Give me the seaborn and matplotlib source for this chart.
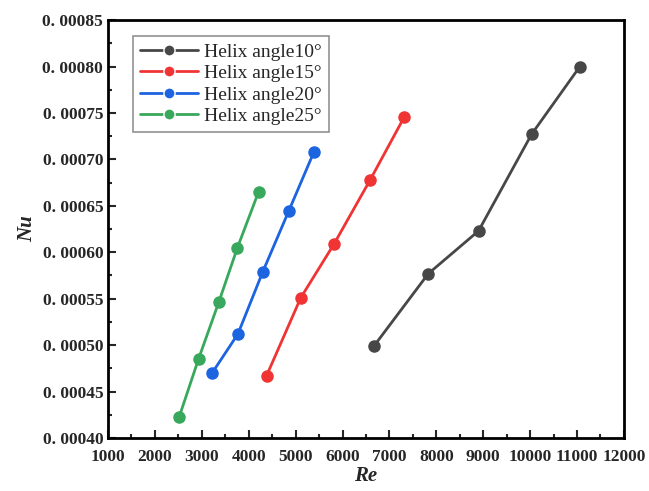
import numpy as np
import pandas as pd
import matplotlib
matplotlib.use("Agg")
import matplotlib.pyplot as plt
from matplotlib.ticker import FuncFormatter, MultipleLocator
import seaborn as sns

labels = ["Helix angle10°", "Helix angle15°", "Helix angle20°", "Helix angle25°"]
re_10 = [6670, 7830, 8900, 10030, 11060]
nu_10 = [0.000499, 0.000577, 0.000623, 0.000727, 0.000800]
re_15 = [4380, 5110, 5820, 6590, 7320]
nu_15 = [0.000467, 0.000551, 0.000609, 0.000678, 0.000746]
re_20 = [3220, 3770, 4300, 4850, 5390]
nu_20 = [0.000470, 0.000512, 0.000579, 0.000644, 0.000708]
re_25 = [2520, 2930, 3360, 3760, 4210]
nu_25 = [0.000423, 0.000485, 0.000546, 0.000605, 0.000665]
colors = ["#474747", "#f03434", "#1d64e0", "#38a85c"]

frames = []
for lab, x, y in zip(labels, [re_10, re_15, re_20, re_25], [nu_10, nu_15, nu_20, nu_25]):
    frames.append(pd.DataFrame({"Re": x, "Nu": y, "series": lab}))
df = pd.concat(frames, ignore_index=True)

sns.set_style("ticks")
plt.rcParams["font.family"] = ["Liberation Serif", "DejaVu Serif"]

fig = plt.figure(figsize=(6.49, 4.91), dpi=100)
ax = fig.add_axes([0.1664, 0.108, 0.795, 0.851])

sns.lineplot(data=df, x="Re", y="Nu", hue="series", hue_order=labels,
             palette=colors, marker="o", markersize=8, linewidth=2,
             markeredgewidth=1, ax=ax, sort=False)
for line, c in zip(ax.get_lines(), colors):
    line.set_markeredgecolor(c)

ax.set_xlim(1000, 12000)
ax.set_ylim(0.0004, 0.00085)
ax.xaxis.set_major_locator(MultipleLocator(1000))
ax.xaxis.set_minor_locator(MultipleLocator(500))
ax.yaxis.set_major_locator(MultipleLocator(0.00005))
ax.yaxis.set_minor_locator(MultipleLocator(0.000025))
ax.yaxis.set_major_formatter(FuncFormatter(lambda v, p: ("%.5f" % v).replace(".", ". ")))
ax.xaxis.set_major_formatter(FuncFormatter(lambda v, p: "%d" % round(v)))

ax.tick_params(which="major", direction="in", length=6, width=1.5, labelsize=12.5)
ax.tick_params(which="minor", direction="in", length=3, width=1.5)
ax.tick_params(axis="x", which="major", pad=8)
for lab in ax.get_xticklabels() + ax.get_yticklabels():
    lab.set_fontweight("bold")
for sp in ax.spines.values():
    sp.set_linewidth(2)
    sp.set_color("black")

ax.set_xlabel("Re", fontsize=15, fontweight="bold", style="italic", labelpad=1)
ax.set_ylabel("Nu", fontsize=15, fontweight="bold", style="italic")

leg = ax.legend(loc="upper left", bbox_to_anchor=(0.03, 0.985), fontsize=14,
                frameon=True, fancybox=False, edgecolor="#777777",
                handlelength=3, borderpad=0.35, labelspacing=0.2, handletextpad=0.3)
leg.get_frame().set_linewidth(1.2)

fig.savefig("out.png", dpi=100)
